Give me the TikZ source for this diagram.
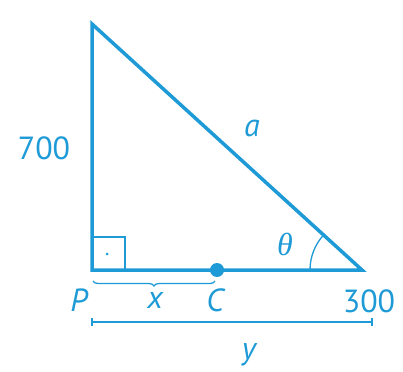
\documentclass[tikz,border=0pt]{standalone}
\usepackage{fontspec}
\setmainfont{PT Sans}
\newfontfamily\gkfont{Liberation Serif}
\usetikzlibrary{decorations.pathreplacing}
\definecolor{cy}{HTML}{1E9AD6}
\begin{document}
\begin{tikzpicture}[x=1pt,y=-1pt,
  lbl/.style={text=cy,font=\fontsize{32}{34}\selectfont,inner sep=0pt},
  side/.style={draw=cy,line width=3.5pt,line join=miter},
  thin/.style={draw=cy,line width=1.3pt}]
\useasboundingbox (0,0) rectangle (403,371);
\coordinate (P) at (92,270);
\coordinate (T) at (92,24);
\coordinate (R) at (362,270);
\coordinate (C) at (217,270);
\draw[thin] (92,237) -- (125,237) -- (125,270);
\fill[cy] (107,254) circle (1.5);
\draw[thin] (R) ++(180:52) arc (180:222.3:52);
\draw[side] (P) -- (T) -- (R) -- cycle;
\fill[cy] (C) circle (7);
\draw[thin,decorate,decoration={brace,mirror,amplitude=5pt}] (93,281) -- (215,281);
\coordinate (D1) at (92,322);
\coordinate (D2) at (372,322);
\draw[thin,line width=1.6pt] (D1) -- (D2);
\draw[thin,line width=1.6pt] (92,318) -- (92,326) (372,318) -- (372,326);
\node[lbl] (l700) at (44,148) {700};
\node[lbl] (la) at (252,128) {\itshape a};
\node[lbl] (lth) at (285,244) {\gkfont\itshape\fontsize{32}{34}\selectfont θ};
\node[lbl] (lP) at (79,300) {\itshape P};
\node[lbl] (lx) at (155,300) {\itshape x};
\node[lbl] (lC) at (215,300) {\itshape C};
\node[lbl] (l300) at (369,301) {300};
\node[lbl] (ly) at (249,355) {\itshape y};
\end{tikzpicture}
\end{document}
